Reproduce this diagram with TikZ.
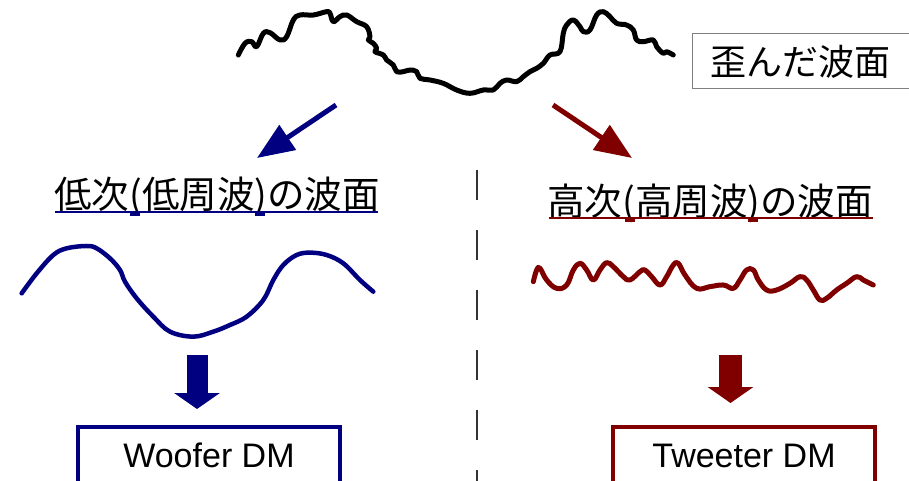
\documentclass[tikz,border=0pt]{standalone}
\usepackage{fontspec}
\setmainfont{Liberation Sans}
\newfontfamily\jp{Noto Sans CJK JP}
\usetikzlibrary{arrows.meta}
\definecolor{wnavy}{RGB}{0,0,128}
\definecolor{wred}{RGB}{128,0,0}
\begin{document}
\begin{tikzpicture}[x=1pt,y=-1pt,
  wavy/.style={line width=5pt,line cap=round,line join=round},
  headtxt/.style={anchor=base,font=\jp\fontsize{37.5}{42}\selectfont},
  dmbox/.style={line width=4pt,minimum width=262pt,minimum height=66pt,anchor=north,
    text height=24pt,text depth=10pt,font=\fontsize{34}{40}\selectfont},
  diag/.style={line width=5pt,-{Triangle[length=37pt,width=29pt]}},
  down/.style={-{Triangle[length=16pt,width=45pt]}}]
\useasboundingbox (0,0) rectangle (909,481);
\clip (0,0) rectangle (909,481);
\fill[white] (0,0) rectangle (909,481);

% distorted wavefront
\begin{scope}[shift={(230,0)},x=0.3333pt,y=-0.3333pt]
\draw[wavy,black] plot[smooth,tension=0.65] coordinates {
(25,165) (45,130) (65,125) (80,140) (100,100) (120,98) (150,120) (170,110)
(190,60) (210,45) (250,45) (290,35) (300,40) (310,65) (330,50) (350,45)
(380,65) (410,80) (420,110) (415,120) (430,130) (440,145) (435,155) (460,165)
(470,180) (490,195) (500,215) (520,215) (540,210) (560,215) (570,235) (600,240)
(640,250) (680,270) (720,280) (760,270) (790,270) (810,250) (830,240) (860,245)
(880,230) (900,215) (920,205) (940,190) (960,165) (990,155) (1000,100) (1010,75)
(1030,60) (1050,80) (1060,95) (1080,90) (1100,45) (1120,35) (1140,50) (1160,70)
(1190,75) (1210,90) (1220,120) (1240,125) (1270,120) (1280,140) (1300,160)
(1310,155) (1330,165)};
\end{scope}

\node[draw=gray,line width=1pt,anchor=west,minimum height=55pt,text width=200pt,
  inner xsep=18pt,align=left,font=\jp\fontsize{36}{40}\selectfont] (distbox) at (692,61.5) {歪んだ波面};

% diagonal arrows
\coordinate (bls) at (336,105); \coordinate (ble) at (257,158);
\coordinate (rds) at (553,105); \coordinate (rde) at (632,158);
\draw[diag,wnavy] (bls) -- (ble);
\draw[diag,wred] (rds) -- (rde);

% divider
\coordinate (dvt) at (477,170); \coordinate (dvb) at (477,481);
\draw[line width=1.5pt,dash pattern=on 30pt off 30pt,black!80] (dvt) -- (dvb);

% headings
\node[headtxt] (lowhead) at (217,208) {低次(低周波)の波面};
\node[headtxt] (highhead) at (710,215) {高次(高周波)の波面};
\draw[wnavy,line width=2.5pt] (55,212) -- (378,212);
\draw[wnavy,line width=3pt] (130,214) -- (140,214) (255,214) -- (265,214);
\draw[wred,line width=2.5pt] (549,218) -- (873,218);
\draw[wred,line width=3pt] (625,220) -- (635,220) (748,220) -- (758,220);

% low frequency wave
\begin{scope}[shift={(0,170)},x=0.3333pt,y=-0.3333pt]
\draw[wavy,wnavy,line width=4.5pt] plot[smooth,tension=0.6] coordinates {
(65,370) (110,310) (160,255) (200,235) (260,228) (290,235) (330,265) (360,300)
(375,335) (410,385) (460,440) (510,485) (580,500) (640,485) (690,465) (740,440)
(790,390) (820,330) (850,285) (890,255) (930,248) (980,255) (1030,280) (1080,330)
(1120,365)};
\end{scope}

% high frequency wave
\begin{scope}[shift={(470,170)},x=0.3333pt,y=-0.3333pt]
\draw[wavy,wred] plot[smooth,tension=0.7] coordinates {
(190,335) (200,300) (210,295) (230,330) (260,355) (290,345) (310,300) (330,280)
(350,300) (370,330) (390,300) (410,278) (430,290) (460,320) (480,330) (510,305)
(525,300) (545,320) (570,345) (590,320) (610,285) (625,280) (645,315) (680,355)
(720,350) (760,345) (790,355) (810,330) (830,300) (850,300) (865,330) (890,360)
(920,360) (960,340) (990,320) (1010,330) (1030,360) (1050,390) (1070,385)
(1100,360) (1130,340) (1160,320) (1180,330) (1210,345)};
\end{scope}

% down arrows
\coordinate (bdt) at (197,355); \coordinate (bdb) at (197,409);
\coordinate (rdt) at (730.5,355); \coordinate (rdb) at (730.5,403);
\draw[down,wnavy,line width=21pt] (bdt) -- (bdb);
\draw[down,wred,line width=23pt] (rdt) -- (rdb);

% boxes
\node[dmbox,draw=wnavy] (woofer) at (209,425) {Woofer DM};
\node[dmbox,draw=wred] (tweeter) at (744,425) {Tweeter DM};
\end{tikzpicture}
\end{document}
